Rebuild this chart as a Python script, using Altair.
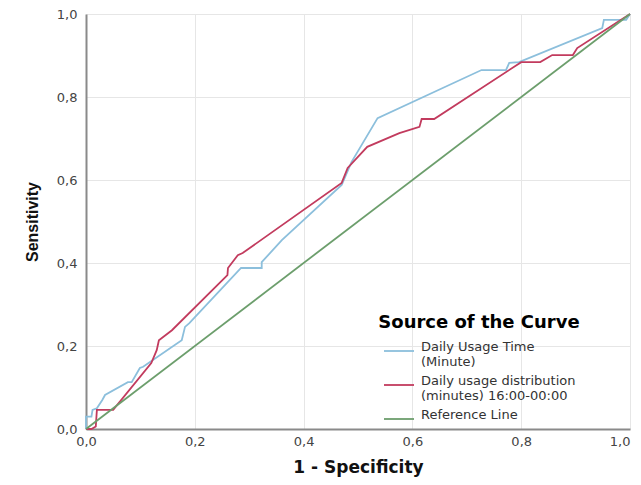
import altair as alt
import pandas as pd

series_names = [
    "Daily Usage Time|(Minute)",
    "Daily usage distribution|(minutes)  16:00-00:00",
    "Reference Line",
]
colors = ["#8cbfdc", "#c23b5e", "#6c9e6c"]

blue_x = [0, 0, 0.01, 0.012, 0.02, 0.03, 0.035, 0.077, 0.084, 0.099, 0.105, 0.176, 0.182, 0.19,
          0.285, 0.323, 0.323, 0.36, 0.47, 0.488, 0.536, 0.727, 0.772, 0.778, 0.796, 0.949,
          0.952, 0.993, 1.0]
blue_y = [0, 0.03, 0.03, 0.046, 0.05, 0.07, 0.082, 0.113, 0.113, 0.147, 0.15, 0.214, 0.246, 0.255,
          0.388, 0.388, 0.402, 0.455, 0.588, 0.643, 0.749, 0.865, 0.865, 0.882, 0.884, 0.966,
          0.986, 0.986, 1.0]

red_x = [0, 0.01, 0.018, 0.02, 0.05, 0.12, 0.13, 0.134, 0.158, 0.26, 0.261, 0.279, 0.288, 0.47,
         0.481, 0.517, 0.576, 0.613, 0.617, 0.64, 0.8, 0.835, 0.857, 0.895, 0.903, 1.0]
red_y = [0, 0, 0.006, 0.046, 0.046, 0.159, 0.19, 0.214, 0.238, 0.371, 0.388, 0.419, 0.424, 0.593,
         0.629, 0.68, 0.713, 0.728, 0.747, 0.747, 0.884, 0.884, 0.901, 0.901, 0.918, 1.0]

ref_x = [0, 1]
ref_y = [0, 1]

rows = []
for name, xs, ys in zip(series_names, [blue_x, red_x, ref_x], [blue_y, red_y, ref_y]):
    for i, (a, b) in enumerate(zip(xs, ys)):
        rows.append({"series": name, "x": a, "y": b, "idx": i})
df = pd.DataFrame(rows)

fmt = "replace(format(datum.value, '.1f'), '.', ',')"
ticks = [0, 0.2, 0.4, 0.6, 0.8, 1.0]

chart = alt.Chart(df).mark_line(strokeWidth=1.8).encode(
    x=alt.X("x:Q", scale=alt.Scale(domain=[0, 1], nice=False),
            axis=alt.Axis(title="1 - Specificity", values=ticks,
                          labelExpr=fmt, ticks=False, labelPadding=6,
                          titlePadding=11, labelFlush=False,
                          labelAlign={"condition": {"test": "datum.value >= 1", "value": "right"},
                                      "value": "center"},
                          titleFont="DejaVu Sans", titleFontSize=17)),
    y=alt.Y("y:Q", scale=alt.Scale(domain=[0, 1], nice=False),
            axis=alt.Axis(title="Sensitivity", values=ticks,
                          labelExpr=fmt, ticks=False, labelPadding=9,
                          titlePadding=16, labelFlush=False,
                          titleFont="Liberation Sans", titleFontSize=16)),
    color=alt.Color("series:N",
                    scale=alt.Scale(domain=series_names, range=colors),
                    legend=alt.Legend(orient="none", legendX=292, legendY=300,
                                      title="Source of the Curve", titleFontSize=18,
                                      titleFontWeight="bold", titleColor="#000000",
                                      titleAnchor="middle", titlePadding=3, titleLimit=400,
                                      labelFontSize=13, labelColor="#333333",
                                      labelBaseline="alphabetic",
                                      labelExpr="split(datum.label, '|')",
                                      labelLimit=300, labelOffset=6,
                                      symbolType="stroke", symbolSize=900,
                                      symbolStrokeWidth=1.8, rowPadding=0, padding=0)),
    order="idx:Q",
).properties(
    width=544, height=415,
    autosize=alt.AutoSizeParams(type="none"),
    padding={"left": 78, "top": 6, "right": 3, "bottom": 48},
).configure_view(stroke=None).configure_axis(
    labelFont="DejaVu Sans", labelFontSize=13,
    labelColor="#444444", titleFontWeight="bold", titleColor="#111111",
    domainColor="#8a8a8a", domainWidth=2, gridColor="#e6e6e6", gridWidth=1,
).configure_legend(labelFont="DejaVu Sans", titleFont="DejaVu Sans")

chart.save("out.html", embed_options={"renderer": "svg", "actions": False})
